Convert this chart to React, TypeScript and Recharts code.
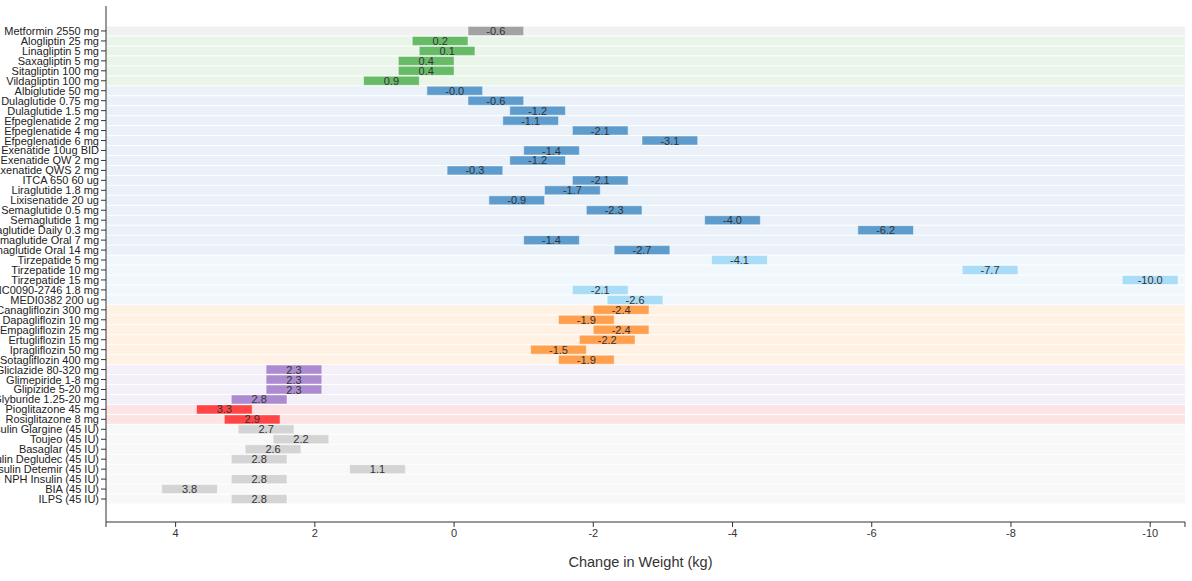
import { BarChart, Bar, XAxis, YAxis, Cell, LabelList } from "recharts"

// one row per treatment, top to bottom
const drugs = [
  "Metformin 2550 mg",
  "Alogliptin 25 mg", "Linagliptin 5 mg", "Saxagliptin 5 mg", "Sitagliptin 100 mg", "Vildagliptin 100 mg",
  "Albiglutide 50 mg", "Dulaglutide 0.75 mg", "Dulaglutide 1.5 mg", "Efpeglenatide 2 mg", "Efpeglenatide 4 mg",
  "Efpeglenatide 6 mg", "Exenatide 10ug BID", "Exenatide QW 2 mg", "Exenatide QWS 2 mg", "ITCA 650 60 ug",
  "Liraglutide 1.8 mg", "Lixisenatide 20 ug", "Semaglutide 0.5 mg", "Semaglutide 1 mg", "Semaglutide Daily 0.3 mg",
  "Semaglutide Oral 7 mg", "Semaglutide Oral 14 mg",
  "Tirzepatide 5 mg", "Tirzepatide 10 mg", "Tirzepatide 15 mg", "NNC0090-2746 1.8 mg", "MEDI0382 200 ug",
  "Canagliflozin 300 mg", "Dapagliflozin 10 mg", "Empagliflozin 25 mg", "Ertugliflozin 15 mg",
  "Ipragliflozin 50 mg", "Sotagliflozin 400 mg",
  "Gliclazide 80-320 mg", "Glimepiride 1-8 mg", "Glipizide 5-20 mg", "Glyburide 1.25-20 mg",
  "Pioglitazone 45 mg", "Rosiglitazone 8 mg",
  "Insulin Glargine (45 IU)", "Toujeo (45 IU)", "Basaglar (45 IU)", "Insulin Degludec (45 IU)",
  "Insulin Detemir (45 IU)", "NPH Insulin (45 IU)", "BIA (45 IU)", "ILPS (45 IU)",
]

const weightChange = [
  -0.6,
  0.2, 0.1, 0.4, 0.4, 0.9,
  -0.01, -0.6, -1.2, -1.1, -2.1, -3.1, -1.4, -1.2, -0.3, -2.1, -1.7, -0.9, -2.3, -4.0, -6.2, -1.4, -2.7,
  -4.1, -7.7, -10.0, -2.1, -2.6,
  -2.4, -1.9, -2.4, -2.2, -1.5, -1.9,
  2.3, 2.3, 2.3, 2.8,
  3.3, 2.9,
  2.7, 2.2, 2.6, 2.8, 1.1, 2.8, 3.8, 2.8,
]

const drugClass = [
  "met",
  "dpp4", "dpp4", "dpp4", "dpp4", "dpp4",
  "glp1", "glp1", "glp1", "glp1", "glp1", "glp1", "glp1", "glp1", "glp1", "glp1", "glp1", "glp1",
  "glp1", "glp1", "glp1", "glp1", "glp1",
  "dual", "dual", "dual", "dual", "dual",
  "sglt2", "sglt2", "sglt2", "sglt2", "sglt2", "sglt2",
  "su", "su", "su", "su",
  "tzd", "tzd",
  "ins", "ins", "ins", "ins", "ins", "ins", "ins", "ins",
]

const xTicks = [5, 4, 2, 0, -2, -4, -6, -8, -10, -10.5]

const classColors: Record<string, { bar: string; band: string }> = {
  met: { bar: "#a2a2a2", band: "#f1f1f1" },
  dpp4: { bar: "#67bb67", band: "#eaf5ea" },
  glp1: { bar: "#5e9cce", band: "#eaf1f8" },
  dual: { bar: "#a9dcf6", band: "#f1f8fd" },
  sglt2: { bar: "#ffa04f", band: "#fff1e4" },
  su: { bar: "#ac8bd0", band: "#f4f0fa" },
  tzd: { bar: "#ff4545", band: "#fde4e4" },
  ins: { bar: "#d4d4d4", band: "#f8f8f8" },
}

const rows = drugs.map((name, i) => ({
  name,
  value: weightChange[i],
  cls: drugClass[i],
}))

// bar spans +-0.4 kg around the value
const span = (d: { value: number }) => [d.value - 0.4, d.value + 0.4]

const renderBand = (p: any) => (
  <rect
    x={p.x}
    y={p.y}
    width={p.width}
    height={p.height}
    fill={classColors[rows[p.index].cls].band}
  />
)

const renderLabel = (p: any) => {
  const vb = p.viewBox || p
  const cx = vb.x + vb.width / 2
  const cy = vb.y + vb.height / 2
  return (
    <text x={cx} y={cy + 4} textAnchor="middle" fontSize={11} fill="#333">
      {Number(p.value).toFixed(1)}
    </text>
  )
}

// plain text tick so long names are not wrapped
const DrugTick = (p: any) => (
  <text x={p.x} y={p.y} dy={4} textAnchor="end" fontSize={11} fill="#222">
    {p.payload.value}
  </text>
)

export default function App() {
  return (
    <div style={{ position: "absolute", left: 0, top: 0, fontFamily: "'Liberation Sans', Arial, sans-serif" }}>
      <BarChart
        layout="vertical"
        width={1192}
        height={581}
        data={rows}
        margin={{ top: 6, right: 7, bottom: 14, left: 0 }}
        barCategoryGap={0.5}
        style={{ overflow: "visible" }}
      >
        <XAxis
          type="number"
          domain={[-10.5, 5]}
          reversed
          ticks={xTicks}
          interval={0}
          allowDataOverflow
          height={45}
          tickSize={5}
          stroke="#333"
          tick={{ fontSize: 11, fill: "#333" }}
          tickFormatter={(v: number) => (v === 5 || v === -10.5 ? "" : String(v))}
          label={{ value: "Change in Weight (kg)", position: "insideBottom", offset: 0, dx: -5, fontSize: 14.5, fill: "#333" }}
        />
        <YAxis
          type="category"
          dataKey="name"
          width={106}
          interval={0}
          padding={{ top: 20, bottom: 18 }}
          tickSize={5}
          stroke="#333"
          tick={<DrugTick />}
        />
        <Bar
          dataKey={span}
          background={renderBand}
          stroke="rgba(255,255,255,0.45)"
          isAnimationActive={false}
        >
          {rows.map((r) => (
            <Cell key={r.name} fill={classColors[r.cls].bar} />
          ))}
          <LabelList dataKey="value" content={renderLabel} />
        </Bar>
      </BarChart>
    </div>
  )
}
